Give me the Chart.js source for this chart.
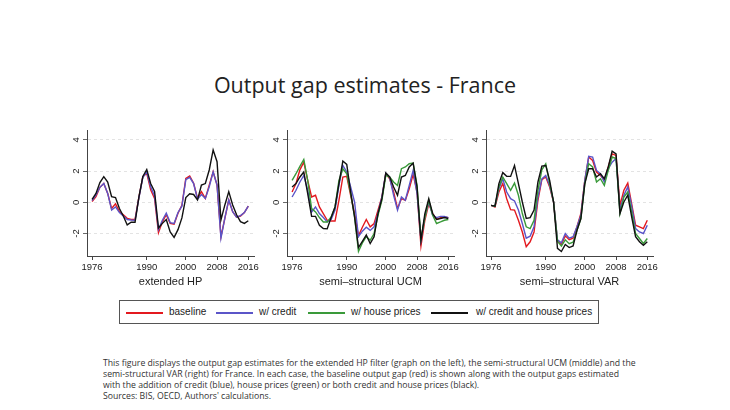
<!DOCTYPE html>
<html>
<head>
<meta charset="utf-8">
<title>Output gap estimates - France</title>
<script src="https://cdn.jsdelivr.net/npm/chart.js@4.4.1/dist/chart.umd.min.js"></script>
<style>
  body { margin: 0; background: #fff; width: 730px; height: 410px; position: relative; overflow: hidden; }
  #title { position: absolute; top: 70px; left: 0; width: 730px; text-align: center;
           font-family: "Open Sans", sans-serif; font-size: 21.5px; color: #222; }
  canvas { position: absolute; }
  #legend { position: absolute; left: 119px; top: 300px; width: 478px; height: 22px;
            border: 1px solid #555; font-family: "Liberation Sans", Arial, sans-serif; font-size: 10px; color: #222; }
  #legend span.item { position: absolute; top: 5px; white-space: nowrap; }
  #legend span.line { position: absolute; top: 11px; width: 37px; height: 2px; }
  #caption { position: absolute; left: 103px; top: 358px; white-space: nowrap;
             font-family: "Open Sans", sans-serif; font-size: 8.7px; line-height: 11px; color: #333; }
</style>
</head>
<body>
<div id="title">Output gap estimates - France</div>
<canvas id="chartHP" width="194" height="170" style="left:67px; top:120px"></canvas>
<canvas id="chartUCM" width="194" height="170" style="left:267px; top:120px"></canvas>
<canvas id="chartVAR" width="194" height="170" style="left:466px; top:120px"></canvas>
<div id="legend">
  <span class="line" style="left:6px; background:#e3191f"></span><span class="item" style="left:49px">baseline</span>
  <span class="line" style="left:96px; background:#5b55c8"></span><span class="item" style="left:139px">w/ credit</span>
  <span class="line" style="left:188px; background:#3a9a3a"></span><span class="item" style="left:231px">w/ house prices</span>
  <span class="line" style="left:311px; background:#111"></span><span class="item" style="left:356px">w/ credit and house prices</span>
</div>
<div id="caption">This figure displays the output gap estimates for the extended HP filter (graph on the left), the semi-structural UCM (middle) and the<br>semi-structural VAR (right) for France. In each case, the baseline output gap (red) is shown along with the output gaps estimated<br>with the addition of credit (blue), house prices (green) or both credit and house prices (black).<br>Sources: BIS, OECD, Authors' calculations.</div>
<script>
// years and ticks
const years = [1976, 1977, 1978, 1979, 1980, 1981, 1982, 1983, 1984, 1985,
               1986, 1987, 1988, 1989, 1990, 1991, 1992, 1993, 1994, 1995,
               1996, 1997, 1998, 1999, 2000, 2001, 2002, 2003, 2004, 2005,
               2006, 2007, 2008, 2009, 2010, 2011, 2012, 2013, 2014, 2015, 2016];
const xTicks = [1976, 1990, 2000, 2008, 2016];
const yTicks = [-2, 0, 2, 4];

// extended HP
const hpBaseline = [0.05, 0.36, 0.96, 1.2, 0.57, -0.4, -0.1, -0.6, -0.8, -1.03,
                    -1.1, -1.1, 0.35, 1.65, 1.85, 0.8, 0.25, -1.95, -1.25, -0.8,
                    -1.35, -1.4, -0.7, -0.2, 1.53, 1.68, 1.22, 0.25, 0.68, 0.25,
                    1.1, 1.96, 1.1, -2.2, -1.03, 0.15, -0.6, -0.96, -0.88, -0.66, -0.24];
const hpCredit = [0.1, 0.47, 0.96, 1.2, 0.57, -0.5, -0.3, -0.66, -0.88, -1.1,
                  -1.13, -1.15, 0.3, 1.6, 1.95, 1.0, 0.4, -1.75, -1.15, -0.7,
                  -1.3, -1.35, -0.65, -0.25, 1.45, 1.6, 1.2, 0.2, 0.5, 0.25,
                  1.0, 1.95, 1.1, -2.3, -1.0, 0.15, -0.6, -0.95, -0.85, -0.65, -0.25];
const hpBoth = [0.19, 0.57, 1.26, 1.64, 1.3, 0.36, 0.3, -0.4, -0.88, -1.45,
                -1.28, -1.28, 0.35, 1.65, 2.1, 1.2, 0.7, -1.65, -1.35, -1.1,
                -1.9, -2.25, -1.75, -1.0, 0.3, 0.55, 0.5, 0.15, 1.1, 1.2,
                2.07, 3.35, 2.6, -1.13, -0.17, 0.68, -0.17, -0.8, -1.24, -1.35, -1.18];

// semi-structural UCM
const ucmBaseline = [0.66, 1.2, 2.08, 2.57, 1.4, 0.34, 0.45, -0.3, -0.72, -1.15,
                     -1.2, -1.2, 0.13, 1.62, 1.66, 0.45, -0.72, -2.15, -1.6, -1.1,
                     -1.57, -1.36, -0.5, 0.34, 1.83, 1.5, 0.66, -0.4, 0.23, 0.13,
                     0.87, 1.79, 0.66, -2.8, -1.15, -0.1, -0.72, -1.1, -0.98, -0.94, -0.98];
const ucmCredit = [0.34, 0.77, 1.3, 1.72, 0.77, -0.62, -0.3, -0.72, -0.98, -1.26,
                   -1.1, -0.5, 1.08, 2.36, 1.94, 0.98, 0.02, -2.2, -1.85, -1.6,
                   -1.8, -1.57, -0.72, 0.34, 1.87, 1.57, 0.45, -0.5, 0.34, 0.13,
                   1.08, 2.04, 0.55, -2.43, -0.94, 0.02, -0.83, -0.98, -0.9, -0.9, -0.98];
const ucmHouse = [1.4, 1.83, 2.3, 2.74, 1.4, -0.4, -0.62, -0.98, -1.26, -1.26,
                  -0.94, -0.3, 1.4, 2.15, 1.83, 0.55, -0.94, -3.15, -2.6, -2.2,
                  -2.43, -2.0, -0.83, 0.13, 1.72, 1.62, 1.3, 1.08, 2.15, 2.26,
                  2.47, 2.51, 1.08, -2.32, -0.98, 0.13, -0.83, -1.36, -1.26, -1.15, -1.1];
const ucmBoth = [0.98, 1.2, 1.62, 1.94, 0.55, -0.9, -0.9, -1.47, -1.68, -1.7,
                 -0.98, -0.3, 1.2, 2.64, 2.43, 0.66, -0.94, -2.9, -2.5, -2.1,
                 -2.64, -2.2, -0.72, 0.23, 1.87, 1.62, 0.98, 0.45, 1.62, 1.72,
                 2.26, 2.51, 0.98, -2.43, -0.72, 0.23, -0.72, -1.1, -1.04, -0.98, -1.04];

// semi-structural VAR
const varBaseline = [-0.2, -0.3, 0.66, 1.2, 0.23, -0.47, -0.5, -1.15, -1.9, -2.85,
                     -2.53, -1.9, 0.13, 1.45, 1.62, 0.98, 0.02, -2.5, -2.7, -2.15,
                     -2.4, -2.3, -1.57, -0.72, 1.4, 2.9, 2.68, 1.94, 1.72, 1.4,
                     2.26, 3.1, 3.0, -0.2, 0.77, 1.23, -0.1, -1.47, -1.57, -1.68, -1.15];
const varCredit = [-0.2, -0.25, 0.87, 1.5, 0.66, 0.23, 0.09, -0.5, -1.36, -2.3,
                   -2.17, -1.57, 0.34, 1.5, 1.72, 1.08, 0.02, -2.4, -2.6, -2.0,
                   -2.3, -2.2, -1.57, -0.83, 1.4, 2.94, 2.9, 2.04, 1.83, 1.3,
                   2.15, 2.57, 2.8, -0.5, 0.45, 0.98, -0.25, -1.68, -1.9, -2.0, -1.47];
const varHouse = [-0.2, -0.25, 0.98, 1.62, 1.2, 0.77, 1.23, 0.45, -0.72, -1.57,
                  -1.68, -1.15, 0.77, 2.08, 2.47, 1.2, 0.02, -2.5, -2.8, -2.4,
                  -2.65, -2.55, -1.79, -1.04, 1.2, 2.47, 2.26, 1.3, 1.51, 1.08,
                  2.04, 2.9, 2.8, -0.72, 0.34, 0.66, -0.62, -2.0, -2.32, -2.64, -2.32];
const varBoth = [-0.2, -0.25, 1.2, 1.9, 1.66, 1.66, 2.36, 1.2, 0.02, -1.04,
                 -0.98, -0.5, 1.3, 2.32, 2.36, 1.4, 0.02, -2.95, -3.15, -2.7,
                 -2.9, -2.8, -1.79, -1.04, 1.2, 2.15, 2.15, 1.62, 1.83, 1.51,
                 2.26, 3.28, 3.1, -0.72, 0.02, 0.45, -0.94, -2.2, -2.53, -2.75, -2.53];

const colBaseline = '#e3191f';
const colCredit = '#5b55c8';
const colHouse = '#3a9a3a';
const colBoth = '#111111';

// y labels rotated like in stata
const rotatedYLabels = {
    id: 'rotatedYLabels',
    afterDraw(chart) {
        const ctx = chart.ctx;
        const y = chart.scales.y;
        ctx.save();
        ctx.font = '9.5px "Liberation Sans", Arial, sans-serif';
        ctx.fillStyle = '#222';
        ctx.textAlign = 'center';
        ctx.textBaseline = 'bottom';
        yTicks.forEach(function(v) {
            ctx.save();
            ctx.translate(y.right - 6, y.getPixelForValue(v));
            ctx.rotate(-Math.PI / 2);
            ctx.fillText(String(v), 0, 0);
            ctx.restore();
        });
        ctx.restore();
    }
};

function serie(values, color, order) {
    return {
        data: years.map(function(yr, i) { return { x: yr, y: values[i] }; }),
        borderColor: color,
        borderWidth: 1.4,
        pointRadius: 0,
        tension: 0,
        order: order
    };
}

function makeChart(id, titulo, datasets) {
    const ctx = document.getElementById(id).getContext('2d');
    return new Chart(ctx, {
        type: 'line',
        data: { datasets: datasets },
        options: {
            responsive: false,
            animation: false,
            devicePixelRatio: 1,
            layout: { padding: { left: 0, right: 4, top: 10, bottom: 0 } },
            plugins: { legend: { display: false }, tooltip: { enabled: false } },
            scales: {
                x: {
                    type: 'linear',
                    min: 1974.7,
                    max: 2017.5,
                    afterBuildTicks: function(s) { s.ticks = xTicks.map(function(v) { return { value: v }; }); },
                    afterFit: function(s) { s.height = 34; },
                    ticks: {
                        font: { family: '"Liberation Sans", Arial, sans-serif', size: 9.5 },
                        color: '#222',
                        padding: 2,
                        maxRotation: 0,
                        callback: function(v) { return String(v); }
                    },
                    grid: { drawOnChartArea: false, drawTicks: true, tickLength: 4, tickColor: '#444' },
                    border: { display: true, color: '#444', width: 1 },
                    title: {
                        display: true,
                        text: titulo,
                        font: { family: '"Liberation Sans", Arial, sans-serif', size: 11 },
                        color: '#222',
                        padding: { top: 0, bottom: 1 }
                    }
                },
                y: {
                    min: -3.44,
                    max: 4.63,
                    afterBuildTicks: function(s) { s.ticks = yTicks.map(function(v) { return { value: v }; }); },
                    afterFit: function(s) { s.width = 20; },
                    ticks: { display: false },
                    grid: { color: '#dcdcdc', lineWidth: 0.8, drawTicks: true, tickLength: 4, tickColor: '#444' },
                    border: { display: true, color: '#444', width: 1, dash: [3, 3] }
                }
            }
        },
        plugins: [rotatedYLabels]
    });
}

document.addEventListener('DOMContentLoaded', function() {
    makeChart('chartHP', 'extended HP', [
        serie(hpBaseline, colBaseline, 3),
        serie(hpCredit, colCredit, 2),
        serie(hpBoth, colBoth, 0)
    ]);
    makeChart('chartUCM', 'semi\u2013structural UCM', [
        serie(ucmBaseline, colBaseline, 3),
        serie(ucmCredit, colCredit, 2),
        serie(ucmHouse, colHouse, 1),
        serie(ucmBoth, colBoth, 0)
    ]);
    makeChart('chartVAR', 'semi\u2013structural VAR', [
        serie(varBaseline, colBaseline, 3),
        serie(varCredit, colCredit, 2),
        serie(varHouse, colHouse, 1),
        serie(varBoth, colBoth, 0)
    ]);
});
</script>
</body>
</html>
